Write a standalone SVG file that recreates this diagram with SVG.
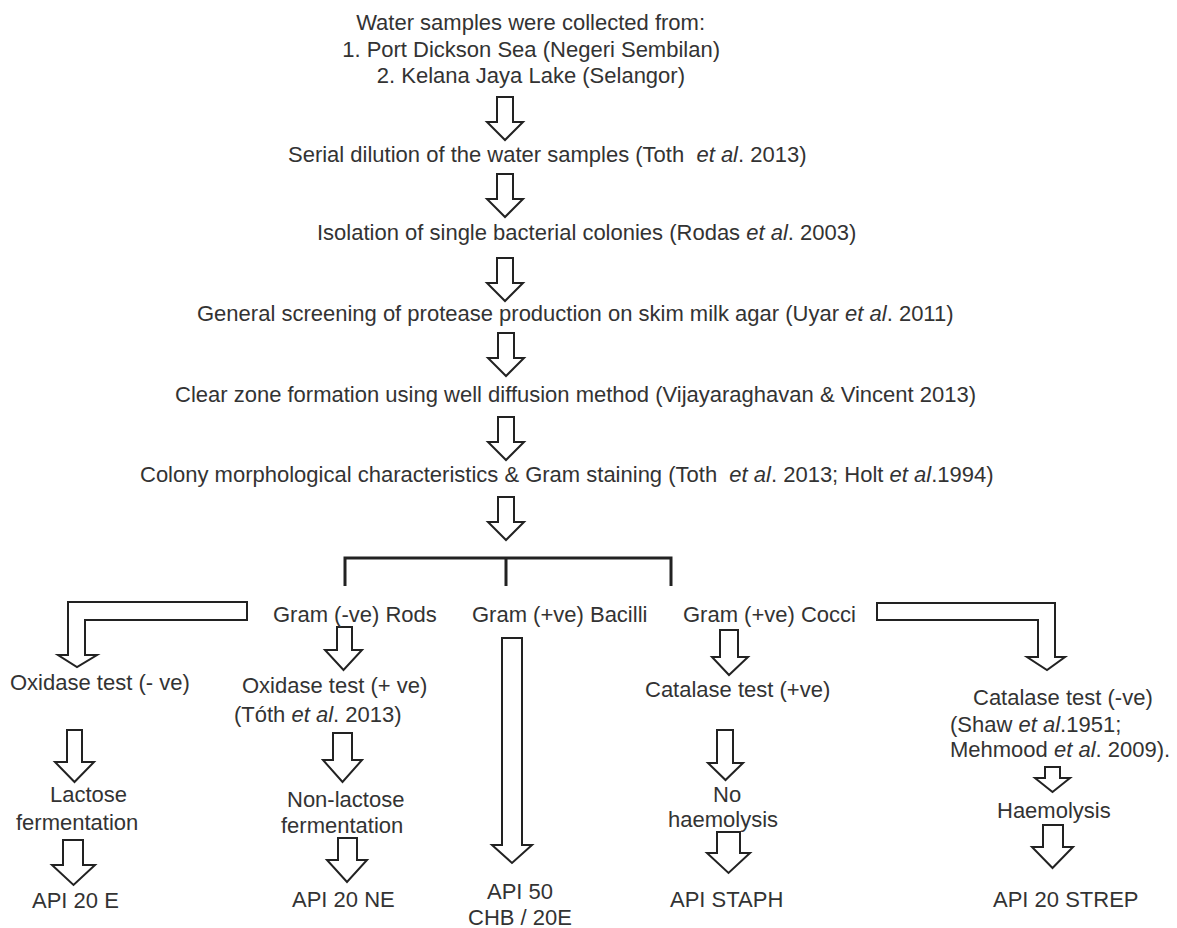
<svg xmlns="http://www.w3.org/2000/svg" width="1177" height="928" viewBox="0 0 1177 928">
<style>
text{font-family:"Liberation Sans",Arial,sans-serif;font-size:22px;fill:#333;}
.i{font-style:italic;}
.pre{white-space:pre;}
.arr{fill:#fff;stroke:#222;stroke-width:2;stroke-linejoin:miter;}
.br{fill:none;stroke:#222;stroke-width:3;}
</style>
<defs>
<path id="da" d="M-8,0 H8 V25 H18 L0,43 L-18,25 H-8 Z"/>
</defs>
<rect width="1177" height="928" fill="#fff"/>
<g id="connectors">
<use href="#da" class="arr" x="505" y="97"/>
<use href="#da" class="arr" x="505" y="174"/>
<use href="#da" class="arr" x="505" y="258"/>
<use href="#da" class="arr" x="506" y="333"/>
<use href="#da" class="arr" x="506" y="417"/>
<use href="#da" class="arr" x="506" y="497"/>
<path class="br" d="M345,586 V558 H671 V586 M506,558 V586"/>
<path class="arr" d="M247,602 H68 V655 H58 L77,667 L97,655 H85 V620 H247 Z"/>
<path class="arr" d="M877,603 H1055 V657 H1065 L1047,670 L1027,657 H1038 V620 H877 Z"/>
<path class="arr" d="M337,627 H352 V650 H362 L343.5,670 L325,650 H337 Z"/>
<path class="arr" d="M67,730 H82 V762 H94 L74.5,782 L55,762 H67 Z"/>
<path class="arr" d="M63,840 H83 V865 H95 L73.5,885 L52,865 H63 Z"/>
<path class="arr" d="M333,733 H352 V760 H362 L342.5,782 L323,760 H333 Z"/>
<path class="arr" d="M338,838 H357 V860 H367 L347,882 L327,860 H338 Z"/>
<path class="arr" d="M502,638 H522 V845 H532 L512,863 L492,845 H502 Z"/>
<path class="arr" d="M720,630 H738 V657 H748 L729,675 L712,657 H720 Z"/>
<path class="arr" d="M717,730 H733 V763 H743 L725.5,780 L708,763 H717 Z"/>
<path class="arr" d="M717,832 H740 V853 H750 L728.5,873 L707,853 H717 Z"/>
<path class="arr" d="M1045,767 H1060 V778 H1070 L1052.5,792 L1035,778 H1045 Z"/>
<path class="arr" d="M1043,825 H1063 V847 H1073 L1052.5,868 L1032,847 H1043 Z"/>
</g>
<g id="n-water">
<text x="705" y="30" text-anchor="end">Water samples were collected from:</text>
<text x="720" y="57" text-anchor="end">1. Port Dickson Sea (Negeri Sembilan)</text>
<text x="685" y="83" text-anchor="end">2. Kelana Jaya Lake (Selangor)</text>
</g>
<g id="n-serial"><text x="288" y="162" class="pre">Serial dilution of the water samples (Toth  <tspan class="i">et al</tspan>. 2013)</text></g>
<g id="n-isolation"><text x="317" y="240">Isolation of single bacterial colonies (Rodas <tspan class="i">et al</tspan>. 2003)</text></g>
<g id="n-screening"><text x="197" y="321">General screening of protease production on skim milk agar (Uyar <tspan class="i">et al</tspan>. 2011)</text></g>
<g id="n-clearzone"><text x="175" y="402">Clear zone formation using well diffusion method (Vijayaraghavan &amp; Vincent 2013)</text></g>
<g id="n-colony"><text x="140" y="482" class="pre">Colony morphological characteristics &amp; Gram staining (Toth  <tspan class="i">et al</tspan>. 2013; Holt <tspan class="i">et al</tspan>.1994)</text></g>
<g id="n-gramneg"><text x="273" y="622">Gram (-ve) Rods</text></g>
<g id="n-bacilli"><text x="472" y="622">Gram (+ve) Bacilli</text></g>
<g id="n-cocci"><text x="683" y="622">Gram (+ve) Cocci</text></g>
<g id="n-oxneg"><text x="10" y="690">Oxidase test (- ve)</text></g>
<g id="n-oxpos"><text x="242" y="693">Oxidase test (+ ve)</text><text x="234" y="722">(Tóth <tspan class="i">et al</tspan>. 2013)</text></g>
<g id="n-catpos"><text x="645" y="697">Catalase test (+ve)</text></g>
<g id="n-catneg"><text x="973" y="705">Catalase test (-ve)</text><text x="950" y="732">(Shaw <tspan class="i">et al</tspan>.1951;</text><text x="950" y="757">Mehmood <tspan class="i">et al</tspan>. 2009).</text></g>
<g id="n-lactose"><text x="50" y="802">Lactose</text><text x="16" y="830">fermentation</text></g>
<g id="n-nonlactose"><text x="287" y="807">Non-lactose</text><text x="281" y="833">fermentation</text></g>
<g id="n-nohaem"><text x="713" y="802">No</text><text x="668" y="827">haemolysis</text></g>
<g id="n-haem"><text x="997" y="818">Haemolysis</text></g>
<g id="n-api20e"><text x="32" y="908">API 20 E</text></g>
<g id="n-api20ne"><text x="292" y="907">API 20 NE</text></g>
<g id="n-api50"><text x="487" y="899">API 50</text><text x="468" y="925">CHB / 20E</text></g>
<g id="n-apistaph"><text x="670" y="907">API STAPH</text></g>
<g id="n-api20strep"><text x="993" y="907">API 20 STREP</text></g>
</svg>
